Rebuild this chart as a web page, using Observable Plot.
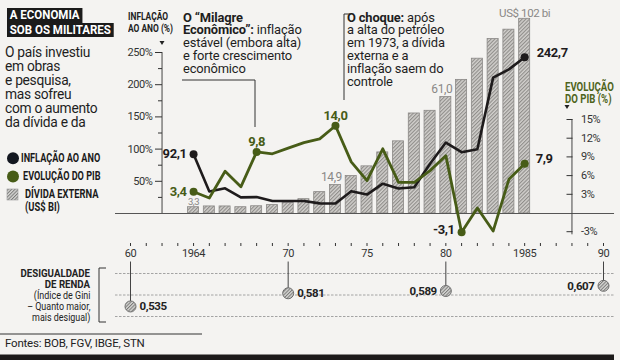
<!DOCTYPE html>
<html><head><meta charset="utf-8">
<script src="https://cdn.jsdelivr.net/npm/d3@7"></script>
<script src="https://cdn.jsdelivr.net/npm/@observablehq/plot@0.6"></script>
<style>
html,body{margin:0;padding:0;background:#f4f3f1;}
#c{position:relative;width:620px;height:360px;overflow:hidden;background:#f4f3f1;font-family:Roboto,"Noto Sans",sans-serif;color:#222;}
#c svg text{letter-spacing:-0.4px;}
.t{position:absolute;white-space:nowrap;}
</style></head><body><div id="c"></div>
<script>
// ---------- data ----------
const years     = [1964,1965,1966,1967,1968,1969,1970,1971,1972,1973,1974,1975,1976,1977,1978,1979,1980,1981,1982,1983,1984,1985];
const inflation = [92.1,34.2,39.1,25.0,25.5,19.3,19.3,19.5,15.7,15.6,34.5,29.4,46.3,38.8,40.8,77.2,110.2,95.2,99.7,211.0,223.8,242.7];
const gdp       = [3.4,2.4,6.7,4.2,9.8,9.5,10.4,11.3,11.9,14.0,8.2,5.2,10.3,4.9,4.9,6.8,9.2,-3.1,0.8,-2.9,5.4,7.9];
const debt      = [3.3,3.7,3.7,3.3,3.8,4.4,5.6,7.5,11.2,14.9,19.6,24.7,32.0,37.8,52.4,53.8,61.0,70.0,81.1,91.4,96.3,102.0];

const inflLabelYears = [1964,1985];
const gdpLabelYears  = [1964,1968,1973,1981,1985];
const debtLabelYears = [1973,1980];

const giniYears  = [1960,1970,1980,1990];
const giniValues = [0.535,0.581,0.589,0.607];
const giniGuides = [0.50,0.575,0.65];

const timeTickYears  = [1960,1961,1962,1963,1964,1965,1966,1967,1968,1969,1970,1971,1972,1973,1974,1975,1976,1977,1978,1979,1980,1981,1982,1983,1984,1985,1986,1987,1988,1989,1990];
const timeLabelYears = [1960,1964,1970,1975,1980,1985,1990];
const timeLabelTexts = ["60","1964","70","75","80","1985","90"];

const inflMajor = [50,100,150,200,250];
const inflMinor = [25,75,125,175,225];
const gdpTicks  = [-3,3,6,9,12,15];

// ---------- setup ----------
const FONT = 'Roboto,"Noto Sans",sans-serif';
const INK = "#1e1b1c", GREEN = "#475c17", GRAY = "#8a8886";
const fmt = (v, n) => v.toFixed(n).replace(".", ",");
const rows = years.map((year, i) => ({year, infl: inflation[i], gdp: gdp[i], debt: debt[i]}));
const byYear = ys => rows.filter(d => ys.includes(d.year));
const gini = giniYears.map((year, i) => ({year, value: giniValues[i]}));
const labelMap = new Map(timeLabelYears.map((y, i) => [y, timeLabelTexts[i]]));
const X = {domain: [1960, 1990], range: [130, 603], label: null};

const C = document.getElementById("c");
C.insertAdjacentHTML("beforeend", `
<svg width="0" height="0" style="position:absolute">
 <defs>
  <pattern id="hb" width="2.6" height="2.6" patternUnits="userSpaceOnUse" patternTransform="rotate(45)">
   <rect width="2.6" height="2.6" fill="#d2d0cd"/><rect width="1.1" height="2.6" fill="#8e8c89"/>
  </pattern>
  <pattern id="hg" width="2.4" height="2.4" patternUnits="userSpaceOnUse" patternTransform="rotate(45)">
   <rect width="2.4" height="2.4" fill="#d6d6d4"/><rect width="1" height="2.4" fill="#7a7a78"/>
  </pattern>
 </defs>
</svg>`);

function place(svg) {
  svg.style.position = "absolute"; svg.style.left = "0"; svg.style.top = "0";
  svg.style.overflow = "visible"; svg.style.background = "transparent"; svg.style.maxWidth = "none";
  C.appendChild(svg);
}
const bold = {fontSize: 13, fontWeight: "bold", fontFamily: FONT};

// ---------- debt bars ----------
place(Plot.plot({
  width: 620, height: 360, margin: 0,
  style: {background: "transparent", fontFamily: FONT},
  x: {...X, axis: null},
  y: {domain: [0, 102], range: [213, 18.3], axis: null, label: null},
  marks: [
    Plot.rectY(rows, {x1: d => d.year - 0.35, x2: d => d.year + 0.35, y1: 0, y2: "debt", fill: "url(#hb)", stroke: GRAY, strokeWidth: 0.8}),
    Plot.text(byYear([1964]), {x: "year", y: "debt", text: d => fmt(d.debt, 1), lineAnchor: "bottom", dy: -2, fontSize: 9.5, fill: "#8a8886"}),
    Plot.text(byYear(debtLabelYears), {x: "year", y: "debt", text: d => fmt(d.debt, 1), lineAnchor: "bottom", dy: -4, dx: -4, fontSize: 12, fill: "#8a8886"}),
    Plot.text(byYear([1985]), {x: "year", y: "debt", text: d => "US$ " + d.debt.toFixed(0) + " bi", lineAnchor: "bottom", dy: -2, fontSize: 11.5, fill: "#8a8886"})
  ]
}));

// ---------- inflation ----------
place(Plot.plot({
  width: 620, height: 360, marginLeft: 162, marginRight: 0, marginTop: 52, marginBottom: 147,
  style: {background: "transparent", fontFamily: FONT},
  x: {...X, axis: null},
  y: {domain: [0, 250], range: [213, 52], label: null},
  marks: [
    Plot.ruleY([0], {x1: 1959.05, x2: 1990.7, stroke: "#555", strokeWidth: 1}),
    Plot.ruleX([1962], {y1: 0, y2: 250, stroke: "#444"}),
    Plot.axisY(inflMajor, {label: null, tickSize: 7, tickPadding: 3, tickFormat: d => d + "%", fontSize: 11, color: "#333"}),
    Plot.axisY(inflMinor, {label: null, tickSize: 4, tickFormat: () => "", color: "#333"}),
    Plot.line(rows, {x: "year", y: "infl", stroke: INK, strokeWidth: 2.6, strokeLinejoin: "round"}),
    Plot.dot(byYear(inflLabelYears), {x: "year", y: "infl", r: 4, fill: INK}),
    Plot.text(byYear([1964]), {x: "year", y: "infl", text: d => fmt(d.infl, 1), textAnchor: "end", dx: -7, ...bold, fill: INK}),
    Plot.text(byYear([1985]), {x: "year", y: "infl", text: d => fmt(d.infl, 1), textAnchor: "start", dx: 12, dy: -4, ...bold, fill: INK})
  ]
}));

// ---------- GDP ----------
place(Plot.plot({
  width: 620, height: 360, marginLeft: 0, marginRight: 48.5, marginTop: 118, marginBottom: 128,
  style: {background: "transparent", fontFamily: FONT},
  x: {...X, axis: null},
  y: {domain: [-3, 15], range: [231.2, 119], label: null},
  marks: [
    Plot.ruleX([1988], {y1: -3.5, y2: 15, stroke: "#444"}),
    Plot.axisY(gdpTicks, {anchor: "right", label: null, tickSize: 6, dx: -6, tickPadding: 9, tickFormat: d => d + "%", fontSize: 11, color: "#333"}),
    Plot.line(rows, {x: "year", y: "gdp", stroke: GREEN, strokeWidth: 2.8, strokeLinejoin: "round"}),
    Plot.dot(byYear(gdpLabelYears), {x: "year", y: "gdp", r: 4, fill: GREEN}),
    Plot.text(byYear([1964]), {x: "year", y: "gdp", text: d => fmt(d.gdp, 1), textAnchor: "end", dx: -7, ...bold, fill: GREEN}),
    Plot.text(byYear([1968, 1973]), {x: "year", y: "gdp", text: d => fmt(d.gdp, 1), lineAnchor: "bottom", dy: -6, ...bold, fill: GREEN}),
    Plot.text(byYear([1981]), {x: "year", y: "gdp", text: d => fmt(d.gdp, 1), textAnchor: "end", dx: -7, dy: -2, ...bold, fill: INK}),
    Plot.text(byYear([1985]), {x: "year", y: "gdp", text: d => fmt(d.gdp, 1), textAnchor: "start", dx: 11, dy: -5, ...bold, fill: INK})
  ]
}));

// ---------- Gini timeline ----------
place(Plot.plot({
  width: 620, height: 360, marginLeft: 0, marginRight: 0, marginTop: 0, marginBottom: 117,
  style: {background: "transparent", fontFamily: FONT},
  x: X,
  y: {domain: [0.5, 0.65], range: [316, 273], axis: null, label: null},
  marks: [
    Plot.axisX(timeTickYears, {label: null, tickSize: 3, tickPadding: 3, tickFormat: d => labelMap.get(d) ?? "", fontSize: 11, color: "#333"}),
    Plot.ruleY(giniGuides, {x1: 1959.05, x2: 1990.7, stroke: "#a3a3a3", strokeDasharray: "2.5,1.5"}),
    Plot.ruleX(gini, {x: "year", y1: "value", y2: 0.69, stroke: "#444"}),
    Plot.dot(gini, {x: "year", y: "value", r: 5.5, fill: "url(#hg)", stroke: "#6e6e6e", strokeWidth: 1}),
    Plot.text(gini.filter(d => d.year < 1975), {x: "year", y: "value", text: d => fmt(d.value, 3), textAnchor: "start", dx: 9, fontSize: 11.5, fontWeight: "bold", fill: "#222"}),
    Plot.text(gini.filter(d => d.year > 1975), {x: "year", y: "value", text: d => fmt(d.value, 3), textAnchor: "end", dx: -9, fontSize: 11.5, fontWeight: "bold", fill: "#222"})
  ]
}));

// ---------- decorations ----------
C.insertAdjacentHTML("beforeend", `
<svg width="620" height="360" style="position:absolute;left:0;top:0;overflow:visible">
 <path d="M182,80H255V127" fill="none" stroke="#333" stroke-width="1"/>
 <path d="M350,14H344V100" fill="none" stroke="#333" stroke-width="1"/>
 <path d="M106,268H99V322H106" fill="none" stroke="#333" stroke-width="1"/>
 <path d="M0,334H202" stroke="#333" stroke-width="1"/>
 <rect x="0" y="354.5" width="614" height="6" fill="#1c1a1a"/>
 <circle cx="13" cy="158.3" r="6" fill="#131720"/>
 <circle cx="13" cy="176.5" r="6" fill="${GREEN}"/>
 <rect x="7" y="189" width="11" height="11" fill="url(#hg)" stroke="#999" stroke-width="0.6"/>
 <path d="M159.5,41L164.5,41L162,45Z" fill="#222"/>
 <path d="M564.5,105L569.5,105L567,109Z" fill="#222"/>
</svg>`);

// ---------- HTML texts ----------
function lines(arr, pos, top, lh, css, sx = 1, align = "left") {
  const d = document.createElement("div");
  d.className = "t";
  const side = align === "right" ? `right:${620 - pos}px;text-align:right;transform-origin:right top;` : `left:${pos}px;transform-origin:left top;`;
  d.style.cssText = side + `top:${top}px;line-height:${lh}px;transform:scaleX(${sx});` + css;
  d.innerHTML = arr.join("<br>");
  C.appendChild(d);
  return d;
}
// title
C.insertAdjacentHTML("beforeend", `
<div class="t" style="left:7px;top:8px;font-weight:bold;font-size:12.5px;color:#fff;line-height:14.5px;transform:scaleX(0.92);transform-origin:left top">
 <span style="background:#1b1b1b;padding:0 3px;display:inline-block">A ECONOMIA</span><br>
 <span style="background:#1b1b1b;padding:0 3px;display:inline-block">SOB OS MILITARES</span>
</div>`);
lines(["O país investiu", "em obras", "e pesquisa,", "mas sofreu", "com o aumento", "da dívida e da"], 5, 46, 13.9, "font-size:13.8px;letter-spacing:-0.3px;color:#1e1e1e");
// legend
const legCss = "font-weight:bold;font-size:12px;color:#1a1a1a";
lines(["INFLAÇÃO AO ANO"], 21, 151.5, 13, legCss, 0.76);
lines(["EVOLUÇÃO DO PIB"], 23, 170, 13, legCss, 0.76);
lines(["DÍVIDA EXTERNA", "(US$ BI)"], 25, 187.5, 13, legCss, 0.78);
// axis titles
lines(["INFLAÇÃO", "AO ANO (%)"], 128, 11, 12, "font-weight:bold;font-size:10.5px;color:#222", 0.8);
lines(["EVOLUÇÃO", "DO PIB (%)"], 565, 81, 12, "font-weight:bold;font-size:12px;color:#4f641b", 0.8);
// annotations
lines(["<b>O “Milagre</b>", "<b>Econômico”:</b> inflação", "estável (embora alta)", "e forte crescimento", "econômico"], 183, 11.5, 12.9, "font-size:12.9px;letter-spacing:-0.15px;color:#1e1e1e");
lines(["<b>O choque:</b> após", "a alta do petróleo", "em 1973, a dívida", "externa e a", "inflação saem do", "controle"], 347, 11.5, 12.9, "font-size:12.9px;letter-spacing:-0.15px;color:#1e1e1e");
// gini side text
lines(["<b>DESIGUALDADE</b>", "<b>DE RENDA</b>"], 90, 267.5, 11, "font-size:11px;color:#222", 0.88, "right");
lines(["(Índice de Gini", "– Quanto maior,", "mais desigual)"], 90, 289.5, 11, "font-size:10.5px;color:#222", 0.85, "right");
lines(["Fontes: BOB, FGV, IBGE, STN"], 5, 336, 14, "font-size:11.5px;color:#222;letter-spacing:-0.2px");
</script>
</body></html>
